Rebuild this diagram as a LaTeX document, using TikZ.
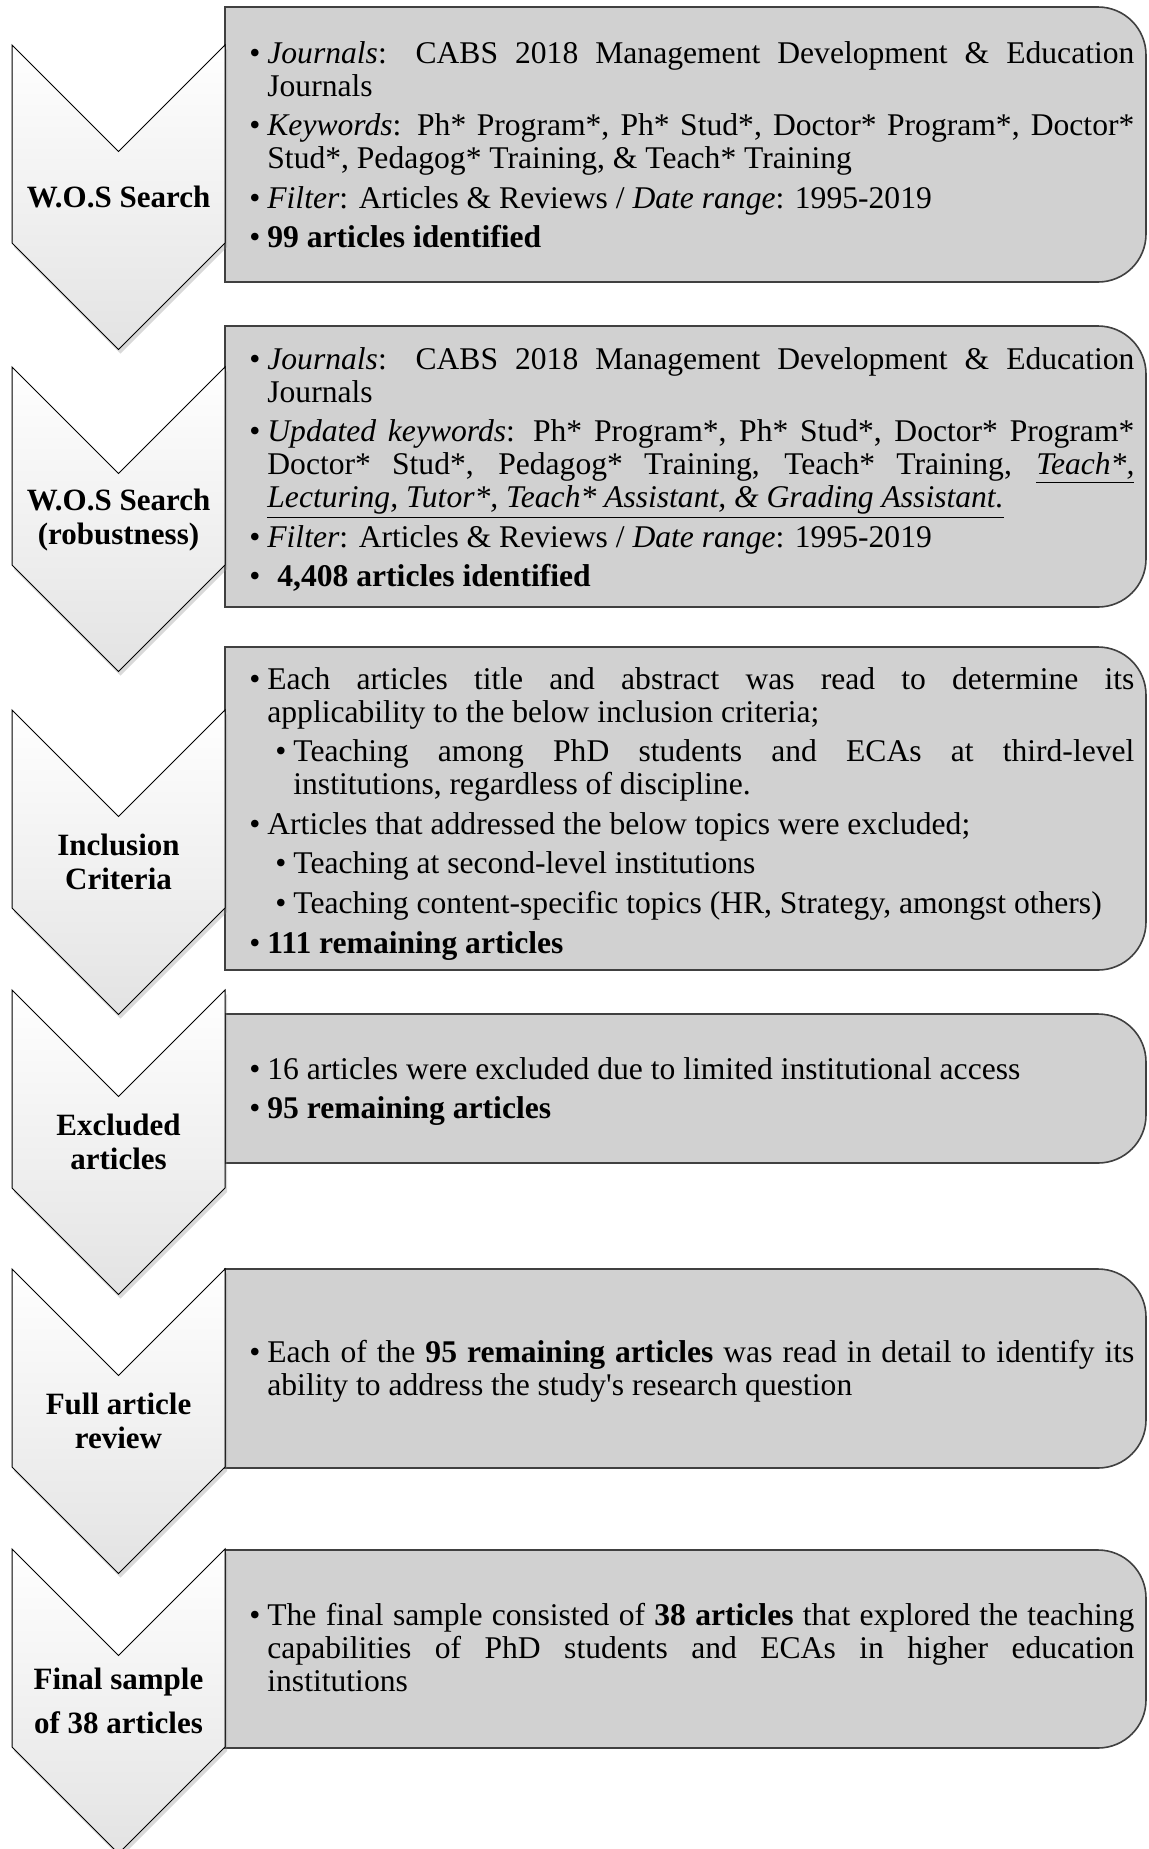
\documentclass[tikz,border=0pt]{standalone}
\usepackage{fontspec}
\setmainfont{Liberation Serif}
\usetikzlibrary{positioning,shadows}

\newcommand{\itm}[1]{\parskip=3.3pt\relax\spaceskip=0.25em plus 0.4em minus 0.05em\relax\hangindent=13.5pt\hangafter=1\noindent\hbox to 13.5pt{\hskip4.5pt\textbullet\hss}#1\par}
\newcommand{\subitm}[1]{\parskip=3.3pt\relax\spaceskip=0.25em plus 0.4em minus 0.05em\relax\hangindent=26.5pt\hangafter=1\noindent\hbox to 26.5pt{\hskip17.5pt\textbullet\hss}#1\par}

\begin{document}
\hyphenpenalty=10000\relax
\exhyphenpenalty=10000\relax
\begin{tikzpicture}[x=0.5pt, y=0.5pt,
		chev/.style={draw=black, line width=0.5pt, top color=white, bottom color=black!11,
			drop shadow={shadow xshift=1pt, shadow yshift=-2pt, opacity=0.3}},
		infobox/.style={draw=black!75, line width=0.8pt, fill=black!18},
		lbl/.style={font=\fontsize{15.5}{17}\selectfont\bfseries, align=center, inner sep=0pt},
		txt/.style={font=\fontsize{15.8}{16.5}\selectfont,
			text width=447pt, align=justify, inner sep=0pt, anchor=base west}]
		\useasboundingbox (0,0) rectangle (1148,-1849);
		% grey panels
		\draw[infobox] (225,-7) -- (1098,-7) arc[start angle=90, end angle=0, radius=24pt] -- (1146,-234) arc[start angle=0, end angle=-90, radius=24pt] -- (225,-282) -- cycle;
		\draw[infobox] (225,-326) -- (1098,-326) arc[start angle=90, end angle=0, radius=24pt] -- (1146,-559) arc[start angle=0, end angle=-90, radius=24pt] -- (225,-607) -- cycle;
		\draw[infobox] (225,-647) -- (1098,-647) arc[start angle=90, end angle=0, radius=24pt] -- (1146,-922) arc[start angle=0, end angle=-90, radius=24pt] -- (225,-970) -- cycle;
		\draw[infobox] (225,-1014) -- (1098,-1014) arc[start angle=90, end angle=0, radius=24pt] -- (1146,-1115) arc[start angle=0, end angle=-90, radius=24pt] -- (225,-1163) -- cycle;
		\draw[infobox] (225,-1269) -- (1098,-1269) arc[start angle=90, end angle=0, radius=24pt] -- (1146,-1420) arc[start angle=0, end angle=-90, radius=24pt] -- (225,-1468) -- cycle;
		\draw[infobox] (225,-1550) -- (1098,-1550) arc[start angle=90, end angle=0, radius=24pt] -- (1146,-1700) arc[start angle=0, end angle=-90, radius=24pt] -- (225,-1748) -- cycle;
		% chevrons
		\path[chev] (12,-45) -- ++(106.5,-106.5) -- ++(106.5,106.5) -- ++(0,-198) -- ++(-106.5,-106.5) -- ++(-106.5,106.5) -- cycle;
		\path[chev] (12,-367) -- ++(106.5,-106.5) -- ++(106.5,106.5) -- ++(0,-198) -- ++(-106.5,-106.5) -- ++(-106.5,106.5) -- cycle;
		\path[chev] (12,-710) -- ++(106.5,-106.5) -- ++(106.5,106.5) -- ++(0,-198) -- ++(-106.5,-106.5) -- ++(-106.5,106.5) -- cycle;
		\path[chev] (12,-990) -- ++(106.5,-106.5) -- ++(106.5,106.5) -- ++(0,-198) -- ++(-106.5,-106.5) -- ++(-106.5,106.5) -- cycle;
		\path[chev] (12,-1269) -- ++(106.5,-106.5) -- ++(106.5,106.5) -- ++(0,-198) -- ++(-106.5,-106.5) -- ++(-106.5,106.5) -- cycle;
		\path[chev] (12,-1549) -- ++(106.5,-106.5) -- ++(106.5,106.5) -- ++(0,-198) -- ++(-106.5,-106.5) -- ++(-106.5,106.5) -- cycle;
		% step labels
		\node[lbl] (search) at (118.5,-197) {W.O.S Search};
		\node[lbl] (robust) at (118.5,-520) {W.O.S Search\\(robustness)};
		\node[lbl] (incl) at (118.5,-862) {Inclusion\\Criteria};
		\node[lbl] (excl) at (118.5,-1142) {Excluded\\articles};
		\node[lbl] (review) at (118.5,-1421) {Full article\\review};
		\node[lbl] (final) at (118.5,-1701) {Final sample\\[5pt]of 38 articles};
		% panel texts
		\node[txt] (searchtxt) at (240,-63) {%
			\itm{\textit{Journals}: CABS 2018 Management Development \& Education Journals}
			\itm{\textit{Keywords}: Ph* Program*, Ph* Stud*, Doctor* Program*, Doctor* Stud*, Pedagog* Training, \& Teach* Training}
			\itm{\textit{Filter}: Articles \& Reviews / \textit{Date range}: 1995-2019}
			\itm{\textbf{99 articles identified}}};
		\node[txt] (robusttxt) at (240,-369) {%
			\itm{\textit{Journals}: CABS 2018 Management Development \& Education Journals}
			\itm{\textit{Updated keywords}: Ph* Program*, Ph* Stud*, Doctor* Program* Doctor* Stud*, Pedagog* Training, Teach* Training, \underline{\textit{Teach*,}} \underline{\textit{Lecturing, Tutor*, Teach* Assistant, \& Grading Assistant.}}}
			\itm{\textit{Filter}: Articles \& Reviews / \textit{Date range}: 1995-2019}
			\itm{\hspace{5pt}\textbf{4,408 articles identified}}};
		\node[txt] (incltxt) at (240,-689) {%
			\itm{Each articles title and abstract was read to determine its\linebreak{} applicability to the below inclusion criteria;}
			\subitm{Teaching among PhD students and ECAs at third-level\linebreak{} institutions, regardless of discipline.}
			\itm{Articles that addressed the below topics were excluded;}
			\subitm{Teaching at second-level institutions}
			\subitm{Teaching content-specific topics (HR, Strategy, amongst others)}
			\itm{\textbf{111 remaining articles}}};
		\node[txt] (excltxt) at (240,-1079) {%
			\itm{16 articles were excluded due to limited institutional access}
			\itm{\textbf{95 remaining articles}}};
		\node[txt] (reviewtxt) at (240,-1362) {%
			\itm{Each of the \textbf{95 remaining articles} was read in detail to identify its\linebreak{} ability to address the study\textquotesingle s research question}};
		\node[txt] (finaltxt) at (240,-1625) {%
			\itm{The final sample consisted of \textbf{38 articles} that explored the teaching\linebreak{} capabilities of PhD students and ECAs in higher education\linebreak{} institutions}};
	\end{tikzpicture}
\end{document}
